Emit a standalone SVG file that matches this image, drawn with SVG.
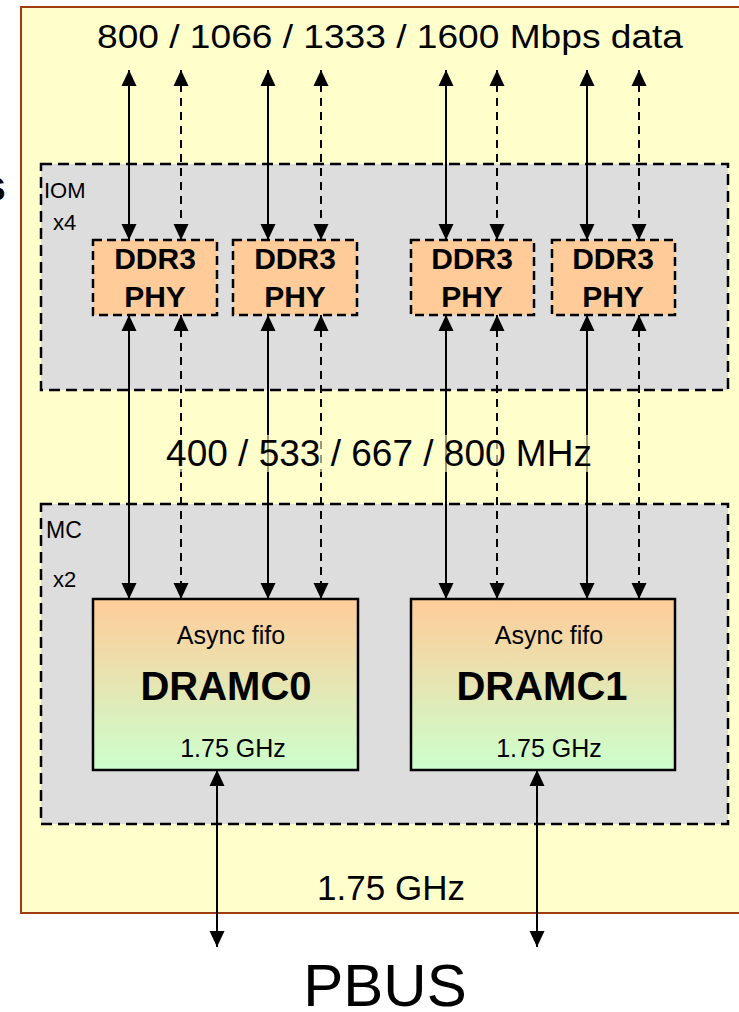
<svg xmlns="http://www.w3.org/2000/svg" width="739" height="1012" viewBox="0 0 739 1012">
<style>
text{font-family:"Liberation Sans",Arial,sans-serif;fill:#000}
.b{font-weight:bold}
.grp{fill:#dddddd;stroke:#000;stroke-width:2.5;stroke-dasharray:11,6}
.phy{fill:#ffcc99;stroke:#000;stroke-width:2.5;stroke-dasharray:9,5}
.mc{fill:url(#g);stroke:#000;stroke-width:2.5}
.s{stroke:#000;stroke-width:2;fill:none;marker-start:url(#a);marker-end:url(#a)}
.d{stroke:#000;stroke-width:2;fill:none;stroke-dasharray:8,6;marker-start:url(#a);marker-end:url(#a)}
</style>
<defs>
<linearGradient id="g" x1="0" y1="0" x2="0" y2="1">
<stop offset="0" stop-color="#ffcc99"/>
<stop offset="1" stop-color="#ccffcc"/>
</linearGradient>
<marker id="a" markerUnits="userSpaceOnUse" markerWidth="17" markerHeight="16" refX="16" refY="7.5" orient="auto-start-reverse" viewBox="0 0 17 15">
<path d="M0,0 L16,7.5 L0,15 z" fill="#000"/>
</marker>
</defs>
<rect x="0" y="0" width="739" height="1012" fill="#fff"/>
<text x="6" y="201" text-anchor="end" class="b" font-size="44">s</text>
<g id="outer">
<rect x="21" y="7" width="730" height="906" fill="#ffffcc" stroke="#a03c14" stroke-width="2"/>
</g>
<g id="IOM">
<rect class="grp" x="41" y="164" width="687" height="226"/>
<text x="44" y="198" font-size="22">IOM</text>
<text x="53" y="230" font-size="22">x4</text>
</g>
<g id="MC">
<rect class="grp" x="41" y="504" width="687" height="320"/>
<text x="46" y="538" font-size="23">MC</text>
<text x="53" y="587" font-size="22">x2</text>
</g>
<g id="phy0">
<rect class="phy" x="93" y="240" width="124" height="75"/>
<text x="155" y="269" text-anchor="middle" class="b" font-size="30">DDR3</text>
<text x="155" y="307" text-anchor="middle" class="b" font-size="30">PHY</text>
</g>
<g id="phy1">
<rect class="phy" x="233" y="240" width="124" height="75"/>
<text x="295" y="269" text-anchor="middle" class="b" font-size="30">DDR3</text>
<text x="295" y="307" text-anchor="middle" class="b" font-size="30">PHY</text>
</g>
<g id="phy2">
<rect class="phy" x="411" y="240" width="123" height="75"/>
<text x="472" y="269" text-anchor="middle" class="b" font-size="30">DDR3</text>
<text x="472" y="307" text-anchor="middle" class="b" font-size="30">PHY</text>
</g>
<g id="phy3">
<rect class="phy" x="552" y="240" width="123" height="75"/>
<text x="613" y="269" text-anchor="middle" class="b" font-size="30">DDR3</text>
<text x="613" y="307" text-anchor="middle" class="b" font-size="30">PHY</text>
</g>
<g id="dramc0">
<rect class="mc" x="93" y="599" width="265" height="171"/>
<text x="231" y="644" text-anchor="middle" font-size="25">Async fifo</text>
<text x="226" y="700" text-anchor="middle" class="b" font-size="40">DRAMC0</text>
<text x="233" y="757" text-anchor="middle" font-size="25">1.75 GHz</text>
</g>
<g id="dramc1">
<rect class="mc" x="411" y="599" width="264" height="171"/>
<text x="549" y="644" text-anchor="middle" font-size="25">Async fifo</text>
<text x="542" y="700" text-anchor="middle" class="b" font-size="40">DRAMC1</text>
<text x="549" y="757" text-anchor="middle" font-size="25">1.75 GHz</text>
</g>
<g id="connectors">
<line class="s" x1="129" y1="70" x2="129" y2="240"/>
<line class="d" x1="181" y1="70" x2="181" y2="240"/>
<line class="s" x1="268" y1="70" x2="268" y2="240"/>
<line class="d" x1="321" y1="70" x2="321" y2="240"/>
<line class="s" x1="446" y1="70" x2="446" y2="240"/>
<line class="d" x1="497" y1="70" x2="497" y2="240"/>
<line class="s" x1="587" y1="70" x2="587" y2="240"/>
<line class="d" x1="639" y1="70" x2="639" y2="240"/>
<line class="s" x1="129" y1="315" x2="129" y2="599"/>
<line class="d" x1="181" y1="315" x2="181" y2="599"/>
<line class="s" x1="268" y1="315" x2="268" y2="599"/>
<line class="d" x1="321" y1="315" x2="321" y2="599"/>
<line class="s" x1="446" y1="315" x2="446" y2="599"/>
<line class="d" x1="497" y1="315" x2="497" y2="599"/>
<line class="s" x1="587" y1="315" x2="587" y2="599"/>
<line class="d" x1="639" y1="315" x2="639" y2="599"/>
<line class="s" x1="217" y1="770" x2="217" y2="947"/>
<line class="s" x1="537" y1="770" x2="537" y2="947"/>
</g>
<g id="labels">
<text x="390" y="48" text-anchor="middle" font-size="34" textLength="586" lengthAdjust="spacingAndGlyphs">800 / 1066 / 1333 / 1600 Mbps data</text>
<rect x="160" y="435" width="438" height="37" fill="#ffffcc" fill-opacity="0.6"/>
<text x="379" y="466" text-anchor="middle" font-size="37">400 / 533 / 667 / 800 MHz</text>
<text x="391" y="900" text-anchor="middle" font-size="35">1.75 GHz</text>
<text x="385" y="1006" text-anchor="middle" font-size="60">PBUS</text>
</g>
</svg>
